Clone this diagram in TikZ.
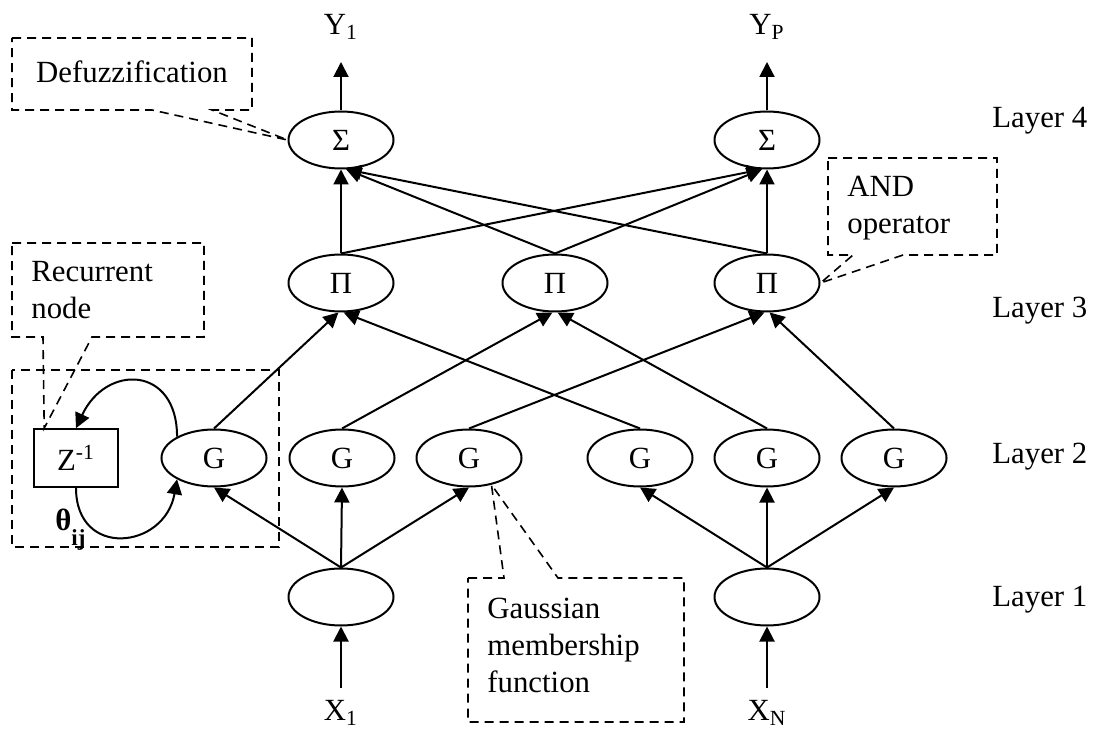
\documentclass[tikz,border=0pt]{standalone}
\usepackage{fontspec}
\setmainfont{Liberation Serif}
\usetikzlibrary{shapes.geometric, arrows.meta}
\tikzstyle{arrow} = [line width=1pt,->,>={Triangle[length=7.5pt,width=7.5pt]}]
\tikzstyle{neuron} = [draw, ellipse, line width=1pt, minimum width=52.5pt, minimum height=28.5pt, inner sep=0pt]
\tikzstyle{callout} = [line width=0.8pt, dash pattern=on 4.5pt off 3pt]
\tikzstyle{note} = [inner sep=0pt, align=left]

\begin{document}
\begin{tikzpicture}[x=0.5pt, y=-0.5pt, font=\fontsize{15.4}{18.5}\selectfont]
        \useasboundingbox (0,0) rectangle (1095,731);
        %warstwa 4
        \node[neuron] (S1) at (341,140) {Σ};
        \node[neuron] (S2) at (767,140) {Σ};
        %warstwa 3
        \node[neuron] (P1) at (341,283) {Π};
        \node[neuron] (P2) at (555,283) {Π};
        \node[neuron] (P3) at (767,283) {Π};
        %warstwa 2
        \node[neuron] (G1) at (214,458) {G};
        \node[neuron] (G2) at (342,458) {G};
        \node[neuron] (G3) at (469,458) {G};
        \node[neuron] (G4) at (640,458) {G};
        \node[neuron] (G5) at (767,458) {G};
        \node[neuron] (G6) at (894,458) {G};
        %warstwa 1
        \node[neuron] (L1) at (341,597) {};
        \node[neuron] (L2) at (767,597) {};
        \node[draw, line width=0.8pt, minimum width=42pt, minimum height=29pt, inner sep=0pt] (Z) at (76,458) {Z\textsuperscript{-1}};
        %wyjscia i wejscia
        \coordinate (y1end) at (341,62);
        \coordinate (y2end) at (767,62);
        \node (Y1) at (341,27) {Y\textsubscript{1}};
        \node (YP) at (767,27) {Y\textsubscript{P}};
        \coordinate (x1start) at (341,688);
        \coordinate (xnstart) at (767,688);
        \node (X1) at (341,713) {X\textsubscript{1}};
        \node (XN) at (767,713) {X\textsubscript{N}};
        %opisy warstw
        \node[note, anchor=west] (lay4) at (992,121) {Layer 4};
        \node[note, anchor=west] (lay3) at (992,311) {Layer 3};
        \node[note, anchor=west] (lay2) at (992,457) {Layer 2};
        \node[note, anchor=west] (lay1) at (992,600) {Layer 1};
        %polaczenia
        \draw[arrow] (S1.north) -- (y1end);
        \draw[arrow] (S2.north) -- (y2end);
        \draw[arrow] (P1.north) -- (S1.south);
        \draw[arrow] (P2.north) -- (S1.280);
        \draw[arrow] (P3.north) -- (S1.280);
        \draw[arrow] (P1.north) -- (S2.260);
        \draw[arrow] (P2.north) -- (S2.260);
        \draw[arrow] (P3.north) -- (S2.south);
        \draw[arrow] (G1.north) -- (P1.265);
        \draw[arrow] (G4.north) -- (P1.275);
        \draw[arrow] (G2.north) -- (P2.265);
        \draw[arrow] (G5.north) -- (P2.275);
        \draw[arrow] (G3.north) -- (P3.265);
        \draw[arrow] (G6.north) -- (P3.275);
        \draw[arrow] (L1.north) -- (G1.south);
        \draw[arrow] (L1.north) -- (G2.south);
        \draw[arrow] (L1.north) -- (G3.south);
        \draw[arrow] (L2.north) -- (G4.south);
        \draw[arrow] (L2.north) -- (G5.south);
        \draw[arrow] (L2.north) -- (G6.south);
        \draw[arrow] (x1start) -- (L1.south);
        \draw[arrow] (xnstart) -- (L2.south);
        %sprzezenie zwrotne
        \draw[arrow] (G1.150) to[out=90, in=65, looseness=1.8] (Z.north);
        \draw[arrow] (Z.south) to[out=-90, in=-100, looseness=1.8] (G1.210);
        \node[note, anchor=base west] (theta) at (55,530) {\textbf{θ\raisebox{-7.5pt}{\fontsize{11.5}{11.5}\selectfont ij}}};
        %ramki z opisami
        \draw[callout] (12,38) -- (252,38) -- (252,110) -- (212,110) -- (S1.west) -- (152,110) -- (12,110) -- cycle;
        \node[note] (defuzz) at (132,72) {Defuzzification};
        \draw[callout] (12,243) -- (204,243) -- (204,337) -- (92,337) -- ([xshift=5.5pt]Z.north west) -- (43,337) -- (12,337) -- cycle;
        \node[note, anchor=west] (recnote) at (31,290) {Recurrent\\node};
        \draw[callout] (12,370) rectangle (279,547);
        \draw[callout] (828,158) -- (997,158) -- (997,255) -- (903,255) -- (P3.east) -- (853,255) -- (828,255) -- cycle;
        \node[note, anchor=west] (andnote) at (847,208) {AND\\operator};
        \draw[callout] (468,578) -- (504,578) -- (G3.310) -- (558,578) -- (684,578) -- (684,722) -- (468,722) -- cycle;
        \node[note, anchor=west] (gaussnote) at (487,645) {Gaussian\\membership\\function};
    \end{tikzpicture}
\end{document}
